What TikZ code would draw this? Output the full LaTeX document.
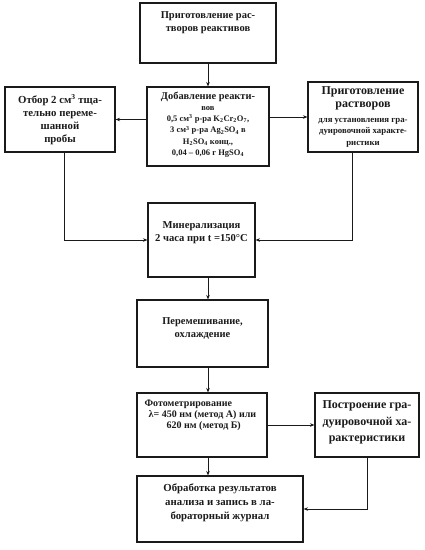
\documentclass[tikz,border=0pt]{standalone}
\usepackage{fontspec}
\setmainfont{Liberation Serif}
\usetikzlibrary{arrows.meta, positioning}
\definecolor{ink}{HTML}{1A1A1A}

\begin{document}
\begin{tikzpicture}[x=1pt, y=-1pt, font=\bfseries\fontsize{10.5}{13}\selectfont,
  box/.style={draw=ink, line width=1.1pt, inner sep=0pt},
  txt/.style={align=center, inner sep=0pt, text=ink},
  arr/.style={draw=ink, line width=0.8pt, -{Stealth[length=4.5pt, width=3.5pt]}}]
  \useasboundingbox (0,0) rectangle (424,550);
  \coordinate (axis) at (208,0);

  \node[box, minimum width=136, minimum height=60] (prep) at (208,33) {};
  \node[txt, below=9pt of prep.north] (prepT) {Приготовление рас-\\творов реактивов};

  \node[box, minimum width=110, minimum height=65] (sample) at (60,119.5) {};
  \node[txt, below=8pt of sample.north, font=\bfseries\fontsize{10.8}{13}\selectfont] (sampleT)
    {Отбор 2 см\textsuperscript{3} тща-\\тельно переме-\\шанной\\пробы};

  \node[box, minimum width=122, minimum height=79] (reag) at (208,126.5) {};
  \node[txt, below=5pt of reag.north, font=\bfseries\fontsize{8.5}{11.3}\selectfont] (reagT)
    {{\fontsize{10.4}{11.3}\selectfont Добавление реакти-}\\вов\\0,5 см\textsuperscript{3} р-ра K\textsubscript{2}Cr\textsubscript{2}O\textsubscript{7},\\3 см\textsuperscript{3} р-ра Ag\textsubscript{2}SO\textsubscript{4} в\\H\textsubscript{2}SO\textsubscript{4} конц.,\\0,04 -- 0,06 г HgSO\textsubscript{4}};

  \node[box, minimum width=110, minimum height=70] (calib) at (363,117) {};
  \node[txt, below=5pt of calib.north, font=\bfseries\fontsize{8.8}{11.5}\selectfont] (calibT)
    {{\fontsize{12}{11.5}\selectfont Приготовление}\\[1.5pt]{\fontsize{12}{11.5}\selectfont растворов}\\[3pt]для установления гра-\\дуировочной характе-\\ристики};

  \node[box, minimum width=107, minimum height=74] (mineral) at (201.5,240) {};
  \node[txt, below=19pt of mineral.north, font=\bfseries\fontsize{10.6}{13}\selectfont] (mineralT)
    {Минерализация\\2 часа при t =150°C};

  \node[box, minimum width=131, minimum height=67] (mix) at (202.5,333.5) {};
  \node[txt, below=18pt of mix.north] (mixT) {Перемешивание,\\охлаждение};

  \node[box, minimum width=130, minimum height=64] (photo) at (202,425) {};
  \node[txt, align=left, below right=7pt and 8pt of photo.north west, font=\bfseries\fontsize{10}{11}\selectfont] (photoT)
    {Фотометрирование\\\hspace*{4pt}λ= 450 нм (метод А) или\\\hspace*{22pt}620 нм (метод Б)};

  \node[box, minimum width=104, minimum height=64] (plot) at (367,425) {};
  \node[txt, below=8pt of plot.north, font=\bfseries\fontsize{12}{16.5}\selectfont] (plotT)
    {Построение гра-\\дуировочной ха-\\рактеристики};

  \node[box, minimum width=166, minimum height=66] (proc) at (220,509) {};
  \node[txt, below=8pt of proc.north, font=\bfseries\fontsize{10.8}{14}\selectfont] (procT)
    {Обработка результатов\\анализа и запись в ла-\\бораторный журнал};

  \draw[arr] (prep.south) -- (reag.north);
  \draw[arr] (sample.east -| reag.west) -- (sample.east);
  \draw[arr] (reag.east |- calib.west) -- (calib.west);
  \draw[arr] ([xshift=4pt]sample.south) |- (mineral.west);
  \draw[arr] ([xshift=-11pt]calib.south) |- (mineral.east);
  \draw[arr] (mineral.south -| axis) -- (mix.north -| axis);
  \draw[arr] (mix.south -| axis) -- (photo.north -| axis);
  \draw[arr] (photo.east) -- (plot.west);
  \draw[arr] (photo.south -| axis) -- (proc.north -| axis);
  \draw[arr] (plot.south) |- (proc.east);
\end{tikzpicture}
\end{document}
